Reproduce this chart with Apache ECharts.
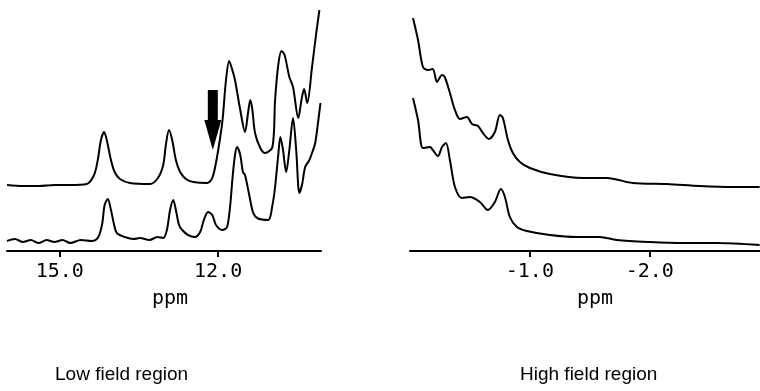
<!DOCTYPE html>
<html>
<head>
<meta charset="utf-8">
<title>NMR spectra</title>
<script src="https://cdn.jsdelivr.net/npm/echarts@6/dist/echarts.min.js"></script>
<style>
  html, body { margin: 0; padding: 0; background: #fff; }
  #chart { width: 760px; height: 391px; }
</style>
</head>
<body>
<div id="chart"></div>
<script>
// low field region, ppm / intensity (arbitrary units)
const lowTop = [
  [16.0, 66], [15.7, 65], [15.39, 65], [15.1, 66], [14.81, 66], [14.49, 67], [14.35, 76], [14.28, 91],
  [14.22, 111], [14.16, 119], [14.11, 111], [14.03, 91], [13.96, 79], [13.86, 72],
  [13.67, 68], [13.29, 67], [13.14, 73], [13.04, 86], [12.99, 106], [12.93, 121],
  [12.87, 111], [12.80, 91], [12.72, 79], [12.61, 72], [12.47, 69], [12.21, 68],
  [12.11, 73], [12.02, 94], [11.94, 121], [11.91, 134], [11.85, 171], [11.79, 190],
  [11.73, 181], [11.68, 171], [11.58, 141], [11.49, 119], [11.43, 139], [11.39, 151],
  [11.35, 141], [11.30, 118], [11.20, 103], [11.11, 98], [10.97, 104], [10.92, 151],
  [10.86, 186], [10.80, 200], [10.74, 196], [10.65, 174], [10.58, 164], [10.48, 133],
  [10.42, 151], [10.37, 162], [10.31, 148], [10.22, 184], [10.14, 218], [10.08, 241]
];
const lowBottom = [
  [16.0, 10], [15.85, 12], [15.7, 9], [15.55, 11], [15.4, 8], [15.25, 11], [15.1, 9],
  [14.95, 11], [14.8, 8], [14.6, 11], [14.4, 10], [14.28, 13], [14.2, 26], [14.15, 46],
  [14.09, 52], [14.03, 41], [13.97, 26], [13.92, 18], [13.77, 14], [13.6, 12], [13.48, 13],
  [13.3, 11], [13.15, 14], [13.04, 13], [12.97, 21], [12.91, 41], [12.85, 51], [12.80, 41],
  [12.74, 26], [12.68, 21], [12.57, 16], [12.44, 14], [12.34, 19], [12.27, 31],
  [12.19, 39], [12.11, 36], [12.04, 26], [11.92, 21], [11.83, 24], [11.77, 46],
  [11.73, 71], [11.68, 96], [11.64, 104], [11.58, 96], [11.53, 79], [11.49, 76],
  [11.41, 56], [11.34, 39], [11.26, 33], [11.05, 31], [10.97, 46], [10.92, 64],
  [10.86, 96], [10.82, 114], [10.77, 101], [10.71, 79], [10.65, 101], [10.58, 133],
  [10.52, 101], [10.46, 58], [10.41, 66], [10.35, 84], [10.27, 91], [10.22, 98],
  [10.16, 108], [10.10, 131], [10.06, 148]
];
// high field region
const highTop = [
  [-0.025, 233], [-0.067, 211], [-0.108, 184], [-0.15, 181], [-0.19, 182], [-0.225, 169],
  [-0.267, 176], [-0.29, 174], [-0.333, 158], [-0.375, 141], [-0.417, 132], [-0.475, 134],
  [-0.517, 127], [-0.567, 125], [-0.608, 118], [-0.658, 112], [-0.708, 119], [-0.75, 136],
  [-0.775, 133], [-0.817, 111], [-0.858, 98], [-0.917, 89], [-1.0, 83], [-1.167, 77],
  [-1.442, 73], [-1.642, 73], [-1.858, 68], [-2.142, 67], [-2.417, 65], [-2.692, 64],
  [-2.917, 64]
];
const highBottom = [
  [-0.025, 153], [-0.067, 131], [-0.108, 103], [-0.167, 104], [-0.19, 101], [-0.233, 95],
  [-0.267, 104], [-0.3, 108], [-0.333, 91], [-0.375, 64], [-0.433, 53], [-0.5, 54],
  [-0.583, 49], [-0.65, 41], [-0.708, 49], [-0.758, 62], [-0.792, 54], [-0.833, 34],
  [-0.892, 24], [-0.975, 20], [-1.167, 16], [-1.392, 14], [-1.583, 14], [-1.725, 11],
  [-2.0, 9], [-2.275, 8], [-2.558, 8], [-2.917, 6]
];
const lowTicks = [15, 12];
const highTicks = [-1, -2];
const arrowAt = [12.1, 131];

const chart = echarts.init(document.getElementById('chart'));

const tickFont = { fontFamily: 'DejaVu Sans Mono', fontSize: 20, color: '#000' };

function specAxis(grid, min, max, ticks, shift) {
  return {
    type: 'value',
    gridIndex: grid,
    min: min,
    max: max,
    inverse: true,
    name: 'ppm',
    nameLocation: 'middle',
    nameGap: 38,
    nameTextStyle: Object.assign({ padding: [0, 0, 0, shift] }, tickFont),
    axisLine: { lineStyle: { color: '#000', width: 2 } },
    axisTick: { customValues: ticks, length: 6, lineStyle: { color: '#000', width: 2 } },
    axisLabel: Object.assign({ customValues: ticks, margin: 11, formatter: v => v.toFixed(1) }, tickFont),
    splitLine: { show: false }
  };
}

function trace(axis, data) {
  return {
    type: 'line',
    xAxisIndex: axis,
    yAxisIndex: axis,
    data: data,
    showSymbol: false,
    smooth: 0.3,
    lineStyle: { color: '#000', width: 2 },
    silent: true
  };
}

const topLeft = trace(0, lowTop);
topLeft.markPoint = {
  silent: true,
  symbol: 'path://M3.5,0 L13.5,0 L13.5,30 L17,30 L8.5,60 L0,30 L3.5,30 Z',
  symbolSize: [17, 60],
  itemStyle: { color: '#000' },
  label: { show: false },
  data: [{ coord: arrowAt }]
};

chart.setOption({
  animation: false,
  grid: [
    { left: 7, right: 439, top: 0, bottom: 140 },
    { left: 410, right: 0, top: 0, bottom: 140 }
  ],
  xAxis: [
    specAxis(0, 10.05, 16.0, lowTicks, 12),
    specAxis(1, -2.92, 0, highTicks, 20)
  ],
  yAxis: [
    { type: 'value', gridIndex: 0, min: 0, max: 251, show: false },
    { type: 'value', gridIndex: 1, min: 0, max: 251, show: false }
  ],
  series: [topLeft, trace(0, lowBottom), trace(1, highTop), trace(1, highBottom)],
  graphic: [
    { type: 'text', left: 55, top: 365, style: { text: 'Low field region', fontFamily: 'Liberation Sans', fontSize: 19, fill: '#000' } },
    { type: 'text', left: 520, top: 365, style: { text: 'High field region', fontFamily: 'Liberation Sans', fontSize: 19, fill: '#000' } }
  ]
});
</script>
</body>
</html>
